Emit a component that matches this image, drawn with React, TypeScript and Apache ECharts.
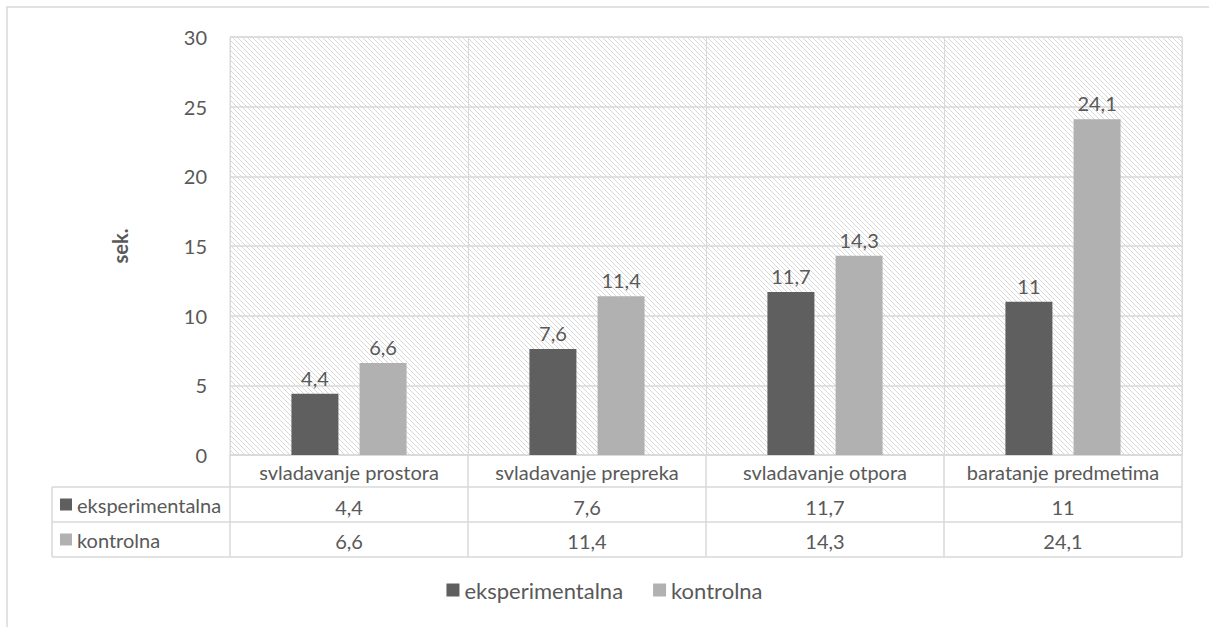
import React, { useEffect, useRef } from "react";
import * as echarts from "echarts";

const categories = ["svladavanje prostora", "svladavanje prepreka", "svladavanje otpora", "baratanje predmetima"];
const seriesNames = ["eksperimentalna", "kontrolna"];
const eksperimentalna = [4.4, 7.6, 11.7, 11];
const kontrolna = [6.6, 11.4, 14.3, 24.1];
const yTicks = { min: 0, max: 30, interval: 5 };
const yName = "sek.";

const DARK = "#5f5f5f";
const LIGHT = "#b1b1b1";
const TEXT = "#595959";
const LINE = "#d9d9d9";
const FONT = "Lato, 'Noto Sans', sans-serif";
const FS = 20;

const W = 1209;
const H = 627;
const GL = 230;
const GR = 1182;
const GT = 37;
const GB = 455;
const TABLE_LEFT = 52;
const ROW1 = 487;
const ROW2 = 522;
const ROW3 = 557;

const fmt = (v: number) => String(v).replace(".", ",");

export default function App() {
  const ref = useRef<HTMLDivElement>(null);
  useEffect(() => {
    document.body.style.margin = "0";
    const el = ref.current!;
    const chart = echarts.init(el, null, { renderer: "svg" });

    const P = 5;
    const c = document.createElement("canvas");
    c.width = P;
    c.height = P;
    const ctx = c.getContext("2d")!;
    ctx.fillStyle = "#ffffff";
    ctx.fillRect(0, 0, P, P);
    ctx.fillStyle = "#d8d8d8";
    for (let i = 0; i < P; i++) ctx.fillRect(i, i, 1, 1);
    const pattern: any = { image: c.toDataURL(), repeat: "repeat", imageWidth: P, imageHeight: P };

    const hl = (y: number) => ({
      type: "line",
      shape: { x1: TABLE_LEFT, y1: y, x2: GR, y2: y },
      style: { stroke: LINE, lineWidth: 1.5 },
      silent: true,
    });

    const labelCfg = {
      show: true,
      position: "top",
      distance: 6,
      fontFamily: FONT,
      fontSize: FS,
      color: TEXT,
      formatter: (p: any) => fmt(p.value),
    };

    chart.setOption({
      animation: false,
      backgroundColor: "#ffffff",
      textStyle: { fontFamily: FONT, color: TEXT },
      grid: {
        left: GL,
        right: W - GR,
        top: GT,
        bottom: H - GB,
        show: true,
        backgroundColor: pattern,
        borderColor: LINE,
        borderWidth: 1,
      },
      legend: {
        data: seriesNames,
        bottom: 21,
        left: "center",
        icon: "rect",
        itemWidth: 13,
        itemHeight: 13,
        itemGap: 30,
        textStyle: { fontFamily: FONT, color: TEXT, fontSize: 22 },
      },
      xAxis: {
        type: "category",
        data: categories,
        axisLine: { show: true, lineStyle: { color: LINE, width: 1.5 } },
        axisTick: { show: true, length: ROW3 - GB, interval: 0, lineStyle: { color: LINE, width: 1.5 } },
        splitLine: { show: true, interval: 0, lineStyle: { color: LINE, width: 1 } },
        axisLabel: {
          interval: 0,
          margin: 0,
          fontFamily: FONT,
          fontSize: FS,
          color: TEXT,
          lineHeight: 34.5,
          formatter: (v: string, i: number) => `${v}\n${fmt(eksperimentalna[i])}\n${fmt(kontrolna[i])}`,
        },
      },
      yAxis: {
        type: "value",
        min: yTicks.min,
        max: yTicks.max,
        interval: yTicks.interval,
        name: yName,
        nameLocation: "middle",
        nameRotate: 90,
        nameGap: 100,
        nameTextStyle: { fontFamily: FONT, fontSize: FS, fontWeight: "bold", color: TEXT },
        axisLine: { show: false },
        axisTick: { show: false },
        axisLabel: { margin: 23, fontFamily: FONT, fontSize: FS, color: TEXT },
        splitLine: { show: true, lineStyle: { color: LINE, width: 1.5 } },
      },
      series: [
        {
          name: seriesNames[0],
          type: "bar",
          data: eksperimentalna,
          barWidth: 47,
          barGap: "45%",
          itemStyle: { color: DARK },
          label: labelCfg,
        },
        {
          name: seriesNames[1],
          type: "bar",
          data: kontrolna,
          barWidth: 47,
          itemStyle: { color: LIGHT },
          label: labelCfg,
        },
      ],
      graphic: [
        {
          type: "rect",
          shape: { x: 7, y: 7, width: 1400, height: 800 },
          style: { fill: "none", stroke: LINE, lineWidth: 1.5 },
          silent: true,
          z: -10,
        },
        hl(ROW1),
        hl(ROW2),
        hl(ROW3),
        {
          type: "line",
          shape: { x1: TABLE_LEFT, y1: ROW1, x2: TABLE_LEFT, y2: ROW3 },
          style: { stroke: LINE, lineWidth: 1.5 },
          silent: true,
        },
        {
          type: "rect",
          shape: { x: 60, y: (ROW1 + ROW2) / 2 - 6, width: 12, height: 12 },
          style: { fill: DARK },
          silent: true,
        },
        {
          type: "text",
          x: 77,
          y: (ROW1 + ROW2) / 2,
          style: { text: seriesNames[0], fill: TEXT, font: `${FS}px ${FONT}`, verticalAlign: "middle" },
          silent: true,
        },
        {
          type: "rect",
          shape: { x: 60, y: (ROW2 + ROW3) / 2 - 6, width: 12, height: 12 },
          style: { fill: LIGHT },
          silent: true,
        },
        {
          type: "text",
          x: 77,
          y: (ROW2 + ROW3) / 2,
          style: { text: seriesNames[1], fill: TEXT, font: `${FS}px ${FONT}`, verticalAlign: "middle" },
          silent: true,
        },
      ],
    });
    return () => chart.dispose();
  }, []);
  return <div ref={ref} style={{ width: W, height: H }} />;
}
